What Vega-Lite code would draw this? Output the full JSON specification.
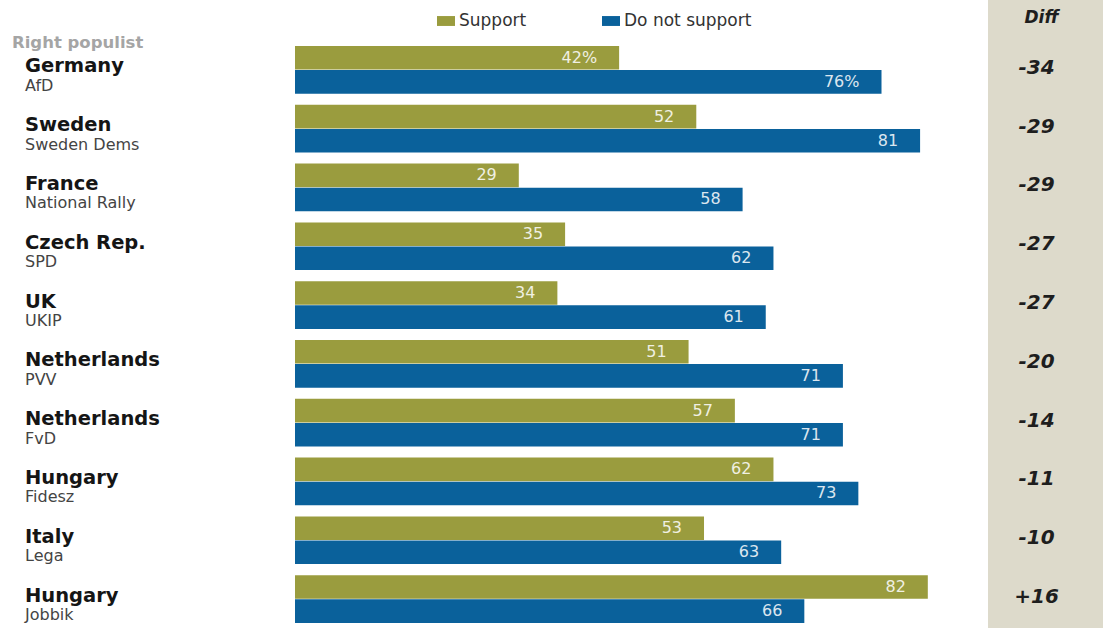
{
  "$schema": "https://vega.github.io/schema/vega-lite/v6.json",
  "padding": 0,
  "background": "white",
  "bounds": "flush",
  "spacing": 0,
  "columns": 3,
  "config": {"view": {"stroke": null}, "concat": {"spacing": 0}},
  "resolve": {"scale": {"x": "independent", "y": "independent"}},
  "datasets": {
    "groups": [
      {"country": "Germany", "party": "AfD", "diff": "-34"},
      {"country": "Sweden", "party": "Sweden Dems", "diff": "-29"},
      {"country": "France", "party": "National Rally", "diff": "-29"},
      {"country": "Czech Rep.", "party": "SPD", "diff": "-27"},
      {"country": "UK", "party": "UKIP", "diff": "-27"},
      {"country": "Netherlands", "party": "PVV", "diff": "-20"},
      {"country": "Netherlands", "party": "FvD", "diff": "-14"},
      {"country": "Hungary", "party": "Fidesz", "diff": "-11"},
      {"country": "Italy", "party": "Lega", "diff": "-10"},
      {"country": "Hungary", "party": "Jobbik", "diff": "+16"}
    ],
    "bars": [
      {"party": "AfD", "series": "Support", "value": 42, "label": "42%"},
      {"party": "AfD", "series": "Do not support", "value": 76, "label": "76%"},
      {"party": "Sweden Dems", "series": "Support", "value": 52, "label": "52"},
      {"party": "Sweden Dems", "series": "Do not support", "value": 81, "label": "81"},
      {"party": "National Rally", "series": "Support", "value": 29, "label": "29"},
      {"party": "National Rally", "series": "Do not support", "value": 58, "label": "58"},
      {"party": "SPD", "series": "Support", "value": 35, "label": "35"},
      {"party": "SPD", "series": "Do not support", "value": 62, "label": "62"},
      {"party": "UKIP", "series": "Support", "value": 34, "label": "34"},
      {"party": "UKIP", "series": "Do not support", "value": 61, "label": "61"},
      {"party": "PVV", "series": "Support", "value": 51, "label": "51"},
      {"party": "PVV", "series": "Do not support", "value": 71, "label": "71"},
      {"party": "FvD", "series": "Support", "value": 57, "label": "57"},
      {"party": "FvD", "series": "Do not support", "value": 71, "label": "71"},
      {"party": "Fidesz", "series": "Support", "value": 62, "label": "62"},
      {"party": "Fidesz", "series": "Do not support", "value": 73, "label": "73"},
      {"party": "Lega", "series": "Support", "value": 53, "label": "53"},
      {"party": "Lega", "series": "Do not support", "value": 63, "label": "63"},
      {"party": "Jobbik", "series": "Support", "value": 82, "label": "82"},
      {"party": "Jobbik", "series": "Do not support", "value": 66, "label": "66"}
    ],
    "headers": [{"left": "Right populist", "diffHead": "Diff", "blank": ""}]
  },
  "concat": [
    {
      "width": 295, "height": 46,
      "data": {"name": "headers"},
      "mark": {"type": "text", "align": "left", "baseline": "alphabetic", "dx": 12, "dy": 25, "font": "DejaVu Sans", "fontWeight": "bold", "fontSize": 16.5, "color": "#a5a5a5"},
      "encoding": {
        "x": {"datum": 0, "type": "quantitative", "scale": {"domain": [0, 1]}, "axis": null},
        "text": {"field": "left"}
      }
    },
    {
      "width": 693, "height": 46,
      "data": {"name": "headers"},
      "mark": {"type": "text"},
      "encoding": {"text": {"field": "blank"}}
    },
    {
      "width": 115, "height": 46,
      "view": {"fill": "#dddacb"},
      "data": {"name": "headers"},
      "mark": {"type": "text", "align": "center", "baseline": "alphabetic", "dx": -4, "dy": 0, "font": "DejaVu Sans", "fontWeight": "bold", "fontStyle": "italic", "fontSize": 17, "color": "#1e1e1e"},
      "encoding": {"text": {"field": "diffHead"}}
    },
    {
      "width": 295, "height": 582,
      "data": {"name": "groups"},
      "encoding": {
        "x": {"datum": 0, "type": "quantitative", "scale": {"domain": [0, 1]}, "axis": null},
        "y": {"field": "party", "type": "nominal", "axis": null,
              "scale": {"type": "band", "domain": ["AfD", "Sweden Dems", "National Rally", "SPD", "UKIP", "PVV", "FvD", "Fidesz", "Lega", "Jobbik"], "paddingInner": 0.189, "paddingOuter": 0.0435, "align": 0}}
      },
      "layer": [
        {
          "mark": {"type": "text", "align": "left", "baseline": "alphabetic", "dx": 25, "dy": 2.5, "font": "DejaVu Sans", "fontWeight": "bold", "fontSize": 19.5, "color": "#151515"},
          "encoding": {"text": {"field": "country"}}
        },
        {
          "mark": {"type": "text", "align": "left", "baseline": "alphabetic", "dx": 25, "dy": 21, "font": "DejaVu Sans", "fontSize": 16, "color": "#444444"},
          "encoding": {"text": {"field": "party"}}
        }
      ]
    },
    {
      "width": 693, "height": 582,
      "data": {"name": "bars"},
      "encoding": {
        "y": {"field": "party", "type": "nominal", "axis": null,
              "scale": {"type": "band", "domain": ["AfD", "Sweden Dems", "National Rally", "SPD", "UKIP", "PVV", "FvD", "Fidesz", "Lega", "Jobbik"], "paddingInner": 0.189, "paddingOuter": 0.0435, "align": 0}},
        "yOffset": {"field": "series", "type": "nominal", "scale": {"domain": ["Support", "Do not support"], "paddingInner": 0.02}},
        "x": {"field": "value", "type": "quantitative", "axis": null, "scale": {"domain": [0, 89.8], "nice": false, "zero": true}}
      },
      "layer": [
        {
          "mark": {"type": "bar"},
          "encoding": {
            "color": {"field": "series", "type": "nominal",
              "scale": {"domain": ["Support", "Do not support"], "range": ["#9a9c3e", "#0a619b"]},
              "legend": {"orient": "none", "legendX": 437, "legendY": 12, "direction": "horizontal", "title": null,
                "symbolType": "M-1,-0.55H1V0.55H-1Z", "symbolSize": 324, "symbolStrokeWidth": 0,
                "labelFont": "DejaVu Sans", "labelFontSize": 17, "labelColor": "#333333", "labelOffset": 4,
                "columnPadding": 75, "padding": 0}
            }
          }
        },
        {
          "mark": {"type": "text", "align": "right", "baseline": "middle", "dx": -22, "font": "DejaVu Sans", "fontSize": 16, "color": "white", "opacity": 0.85},
          "encoding": {"text": {"field": "label"}}
        }
      ]
    },
    {
      "width": 115, "height": 582,
      "view": {"fill": "#dddacb"},
      "data": {"name": "groups"},
      "mark": {"type": "text", "align": "center", "baseline": "middle", "dx": -9, "dy": -2, "font": "DejaVu Sans", "fontWeight": "bold", "fontStyle": "italic", "fontSize": 20, "color": "#1e1e1e"},
      "encoding": {
        "y": {"field": "party", "type": "nominal", "axis": null,
              "scale": {"type": "band", "domain": ["AfD", "Sweden Dems", "National Rally", "SPD", "UKIP", "PVV", "FvD", "Fidesz", "Lega", "Jobbik"], "paddingInner": 0.189, "paddingOuter": 0.0435, "align": 0}},
        "text": {"field": "diff"}
      }
    }
  ]
}
